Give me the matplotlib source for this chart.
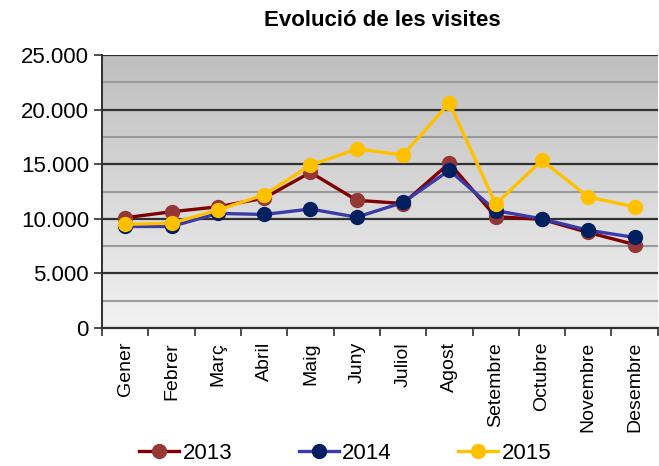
import numpy as np
import matplotlib.pyplot as plt
from matplotlib.colors import LinearSegmentedColormap
from matplotlib.ticker import MultipleLocator, FuncFormatter

months = ["Gener", "Febrer", "Març", "Abril", "Maig", "Juny", "Juliol",
          "Agost", "Setembre", "Octubre", "Novembre", "Desembre"]
v2013 = [10100, 10650, 11100, 11900, 14250, 11700, 11400, 15100, 10200, 9950, 8750, 7650]
v2014 = [9300, 9300, 10500, 10400, 10900, 10150, 11500, 14450, 10750, 10000, 8950, 8300]
v2015 = [9500, 9600, 10800, 12200, 14900, 16400, 15850, 20600, 11350, 15350, 12000, 11100]

plt.rcParams['font.family'] = ['Liberation Sans', 'DejaVu Sans']

fig = plt.figure(figsize=(6.59, 4.66), dpi=100)
ax = fig.add_axes([0.155, 0.296, 0.843, 0.586])

x = np.arange(len(months))

# gradient background
grad = LinearSegmentedColormap.from_list("g", ["#f2f2f2", "#bebebe"])
ax.imshow(np.linspace(0, 1, 256).reshape(-1, 1), cmap=grad, aspect="auto",
          extent=(-0.5, 11.5, 0, 25000), origin="lower", zorder=0)

for y in np.arange(2500, 25000, 5000):
    ax.axhline(y, color="#9a9a9a", lw=1.5, zorder=1)
for y in np.arange(5000, 25001, 5000):
    ax.axhline(y, color="#303030", lw=1.6, zorder=1)

ax.plot(x, v2013, color="#7f0000", lw=2.4, marker="o", ms=10,
        mfc="#953735", mec="#953735", label="2013", zorder=3)
ax.plot(x, v2014, color="#3a3aa8", lw=2.4, marker="o", ms=10,
        mfc="#002060", mec="#002060", label="2014", zorder=4)
ax.plot(x, v2015, color="#ffc000", lw=2.4, marker="o", ms=10,
        mfc="#ffc000", mec="#ffc000", label="2015", zorder=5)

ax.set_xlim(-0.5, 11.5)
ax.set_ylim(0, 25000)
ax.yaxis.set_major_locator(MultipleLocator(5000))
ax.yaxis.set_major_formatter(FuncFormatter(lambda v, p: f"{int(v):,}".replace(",", ".")))
ax.tick_params(axis="y", labelsize=16, length=6, width=1.2, color="#303030")

ax.set_xticks(x)
ax.set_xticklabels(months, rotation=90, fontsize=14)
ax.set_xticks(np.arange(-0.5, 12, 1), minor=True)
ax.tick_params(axis="x", which="major", length=0, pad=10)
ax.tick_params(axis="x", which="minor", length=6, width=1.2, color="#303030")

for s in ["top", "right"]:
    ax.spines[s].set_visible(False)
ax.spines["left"].set_color("#303030")
ax.spines["left"].set_linewidth(1.4)
ax.spines["bottom"].set_color("#303030")
ax.spines["bottom"].set_linewidth(1.6)
ax.spines["left"].set_zorder(6)

fig.text(0.58, 0.955, "Evolució de les visites", ha="center", va="center",
         fontsize=16, fontweight="bold")

fig.legend(loc="center", bbox_to_anchor=(0.524, 0.027), ncol=3, frameon=False,
           fontsize=16, handlelength=1.8, columnspacing=3.0, handletextpad=0.15,
           borderpad=0)

fig.savefig("out.png", dpi=100)
